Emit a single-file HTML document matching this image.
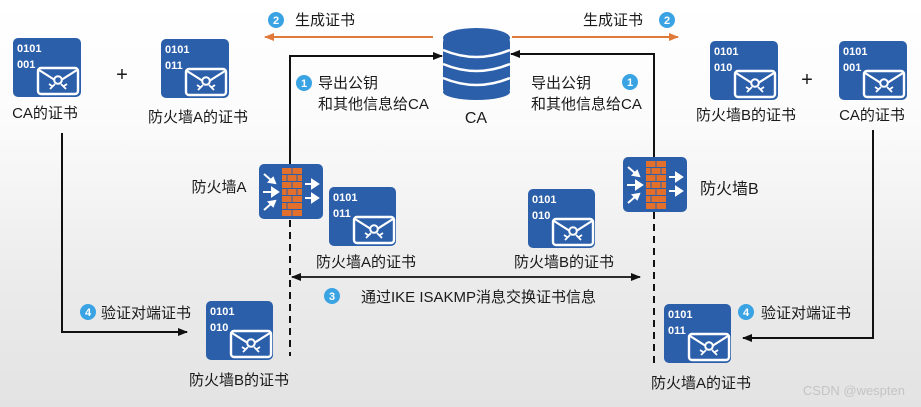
<!DOCTYPE html>
<html><head><meta charset="utf-8"><style>
html,body{margin:0;padding:0;}
body{width:921px;height:407px;overflow:hidden;background:linear-gradient(#ffffff 0%,#fbfbfb 30%,#ebebeb 70%,#e3e3e3 100%);}
svg{display:block;}
text{font-family:"Liberation Sans","Noto Sans CJK SC",sans-serif;}
.t{font-size:15px;fill:#1a1a1a;}
.b{font-size:11px;font-weight:bold;fill:#fff;}
.n{font-size:11px;font-weight:bold;fill:#fff;}
</style></head><body>
<svg width="921" height="407" viewBox="0 0 921 407" xmlns="http://www.w3.org/2000/svg">
<defs>
<g id="env">
<rect x="25" y="30" width="40" height="26" rx="3" fill="none" stroke="#fff" stroke-width="2.4"/>
<polyline points="26,32 45,44 64,32" fill="none" stroke="#fff" stroke-width="2.2"/>
<circle cx="45" cy="42" r="3.8" fill="#2c5faa" stroke="#fff" stroke-width="2"/>
<path d="M37,51 l5,-5 M53,51 l-5,-5 M36,46 l3,2 M54,46 l-3,2" stroke="#fff" stroke-width="1.8"/>
</g>
<g id="fw">
<rect x="0" y="0" width="64" height="55" rx="5" fill="#2c5faa"/>
<g fill="#e2702c">
<rect x="23" y="4" width="20" height="6"/><rect x="23" y="11" width="20" height="6"/><rect x="23" y="18" width="20" height="6"/><rect x="23" y="25" width="20" height="6"/><rect x="23" y="32" width="20" height="6"/><rect x="23" y="39" width="20" height="6"/><rect x="23" y="46" width="20" height="6"/>
</g>
<g stroke="#2c5faa" stroke-width="1"><line x1="33" y1="4" x2="33" y2="10"/><line x1="28" y1="11" x2="28" y2="17"/><line x1="38" y1="11" x2="38" y2="17"/><line x1="33" y1="18" x2="33" y2="24"/><line x1="28" y1="25" x2="28" y2="31"/><line x1="38" y1="25" x2="38" y2="31"/><line x1="33" y1="32" x2="33" y2="38"/><line x1="28" y1="39" x2="28" y2="45"/><line x1="33" y1="46" x2="33" y2="52"/></g>
<g fill="#fff" stroke="#fff" stroke-width="2">
<line x1="5" y1="10" x2="13" y2="17"/><polygon points="16,19 10,18 14,14" />
<line x1="4" y1="28" x2="14" y2="28"/><polygon points="19,28 13,24 13,32"/>
<line x1="5" y1="46" x2="13" y2="39"/><polygon points="16,37 10,38 14,42"/>
<line x1="46" y1="20" x2="54" y2="20"/><polygon points="59,20 53,16 53,24"/>
<line x1="46" y1="34" x2="54" y2="34"/><polygon points="59,34 53,30 53,38"/>
</g>
</g>
<marker id="ak" markerWidth="10" markerHeight="8" refX="9" refY="4" orient="auto" markerUnits="userSpaceOnUse"><path d="M0,0 L10,4 L0,8 z" fill="#111"/></marker>
<marker id="ao" markerWidth="10" markerHeight="8" refX="9" refY="4" orient="auto" markerUnits="userSpaceOnUse"><path d="M0,0 L10,4 L0,8 z" fill="#e07a3a"/></marker>
<marker id="aks" markerWidth="10" markerHeight="8" refX="1" refY="4" orient="auto" markerUnits="userSpaceOnUse"><path d="M10,0 L0,4 L10,8 z" fill="#111"/></marker>
</defs>

<line x1="433" y1="37" x2="265" y2="37" stroke="#e07a3a" stroke-width="2" marker-end="url(#ao)"/>
<line x1="512" y1="37" x2="678" y2="37" stroke="#e07a3a" stroke-width="2" marker-end="url(#ao)"/>
<polyline points="290,164 290,56 442,56" fill="none" stroke="#111" stroke-width="2" marker-end="url(#ak)"/>
<polyline points="654,157 654,54 511,54" fill="none" stroke="#111" stroke-width="2" marker-end="url(#ak)"/>
<line x1="290" y1="220" x2="290" y2="356" stroke="#111" stroke-width="2" stroke-dasharray="7,5"/>
<line x1="654" y1="212" x2="654" y2="364" stroke="#111" stroke-width="2" stroke-dasharray="7,5"/>
<line x1="292" y1="277" x2="640" y2="277" stroke="#111" stroke-width="1.8" marker-start="url(#aks)" marker-end="url(#ak)"/>
<polyline points="62,133 62,332 187,332" fill="none" stroke="#111" stroke-width="2" marker-end="url(#ak)"/>
<polyline points="873,130 873,338 743,338" fill="none" stroke="#111" stroke-width="2" marker-end="url(#ak)"/>

<g fill="#2c5faa">
<rect x="443" y="38" width="67" height="55" rx="4"/>
<ellipse cx="476.5" cy="38" rx="33.5" ry="10"/>
<ellipse cx="476.5" cy="92" rx="33.5" ry="8"/>
</g>
<g fill="none" stroke="#fff" stroke-width="2.5">
<path d="M443,50 Q476.5,64 510,50"/><path d="M443,64 Q476.5,78 510,64"/><path d="M443,78 Q476.5,92 510,78"/>
</g>
<text x="476" y="123" class="t" text-anchor="middle" style="font-size:16px">CA</text>

<g transform="translate(13,38)"><rect width="68" height="59" rx="5" fill="#2c5faa"/><text x="4" y="14" class="b">0101</text><text x="4" y="30" class="b">001</text><use href="#env"/></g>
<g transform="translate(161,39)"><rect width="68" height="59" rx="5" fill="#2c5faa"/><text x="4" y="14" class="b">0101</text><text x="4" y="30" class="b">011</text><use href="#env"/></g>
<g transform="translate(710,41)"><rect width="68" height="59" rx="5" fill="#2c5faa"/><text x="4" y="14" class="b">0101</text><text x="4" y="30" class="b">010</text><use href="#env"/></g>
<g transform="translate(839,41)"><rect width="68" height="59" rx="5" fill="#2c5faa"/><text x="4" y="14" class="b">0101</text><text x="4" y="30" class="b">001</text><use href="#env"/></g>
<g transform="translate(329,187)"><rect width="67" height="59" rx="5" fill="#2c5faa"/><text x="4" y="14" class="b">0101</text><text x="4" y="30" class="b">011</text><use href="#env"/></g>
<g transform="translate(528,189)"><rect width="67" height="59" rx="5" fill="#2c5faa"/><text x="4" y="14" class="b">0101</text><text x="4" y="30" class="b">010</text><use href="#env"/></g>
<g transform="translate(206,301)"><rect width="67" height="59" rx="5" fill="#2c5faa"/><text x="4" y="14" class="b">0101</text><text x="4" y="30" class="b">010</text><use href="#env"/></g>
<g transform="translate(664,304)"><rect width="67" height="59" rx="5" fill="#2c5faa"/><text x="4" y="14" class="b">0101</text><text x="4" y="30" class="b">011</text><use href="#env"/></g>

<use href="#fw" x="259" y="164"/>
<use href="#fw" x="623" y="157"/>

<text x="45" y="118" class="t" text-anchor="middle">CA的证书</text>
<text x="122" y="81" class="t" text-anchor="middle" style="font-size:20px">+</text>
<text x="198" y="122" class="t" text-anchor="middle">防火墙A的证书</text>
<text x="746" y="120" class="t" text-anchor="middle">防火墙B的证书</text>
<text x="807" y="86" class="t" text-anchor="middle" style="font-size:20px">+</text>
<text x="872" y="120" class="t" text-anchor="middle">CA的证书</text>
<text x="219" y="192" class="t" text-anchor="middle">防火墙A</text>
<text x="700" y="194" class="t" style="font-size:16px">防火墙B</text>
<text x="366" y="267" class="t" text-anchor="middle">防火墙A的证书</text>
<text x="564" y="267" class="t" text-anchor="middle">防火墙B的证书</text>
<text x="239" y="385" class="t" text-anchor="middle">防火墙B的证书</text>
<text x="701" y="388" class="t" text-anchor="middle">防火墙A的证书</text>

<text x="295" y="25" class="t">生成证书</text>
<text x="583" y="25" class="t">生成证书</text>
<text x="318" y="88" class="t">导出公钥</text>
<text x="318" y="109" class="t">和其他信息给CA</text>
<text x="531" y="88" class="t">导出公钥</text>
<text x="531" y="109" class="t">和其他信息给CA</text>
<text x="361" y="302" class="t">通过IKE ISAKMP消息交换证书信息</text>
<text x="101" y="318" class="t">验证对端证书</text>
<text x="761" y="318" class="t">验证对端证书</text>

<g fill="#3aa3e3">
<circle cx="276" cy="20" r="8"/><circle cx="667" cy="20" r="8"/>
<circle cx="304" cy="83" r="8"/><circle cx="630" cy="82" r="8"/>
<circle cx="332" cy="296" r="8"/>
<circle cx="88" cy="312" r="8"/><circle cx="746" cy="312" r="8"/>
</g>
<text x="276" y="24" class="n" text-anchor="middle">2</text>
<text x="667" y="24" class="n" text-anchor="middle">2</text>
<text x="304" y="87" class="n" text-anchor="middle">1</text>
<text x="630" y="86" class="n" text-anchor="middle">1</text>
<text x="332" y="300" class="n" text-anchor="middle">3</text>
<text x="88" y="316" class="n" text-anchor="middle">4</text>
<text x="746" y="316" class="n" text-anchor="middle">4</text>

<text x="905" y="395" text-anchor="end" style="font-size:13px;fill:#c4c4c4">CSDN @wespten</text>
</svg>
</body></html>
